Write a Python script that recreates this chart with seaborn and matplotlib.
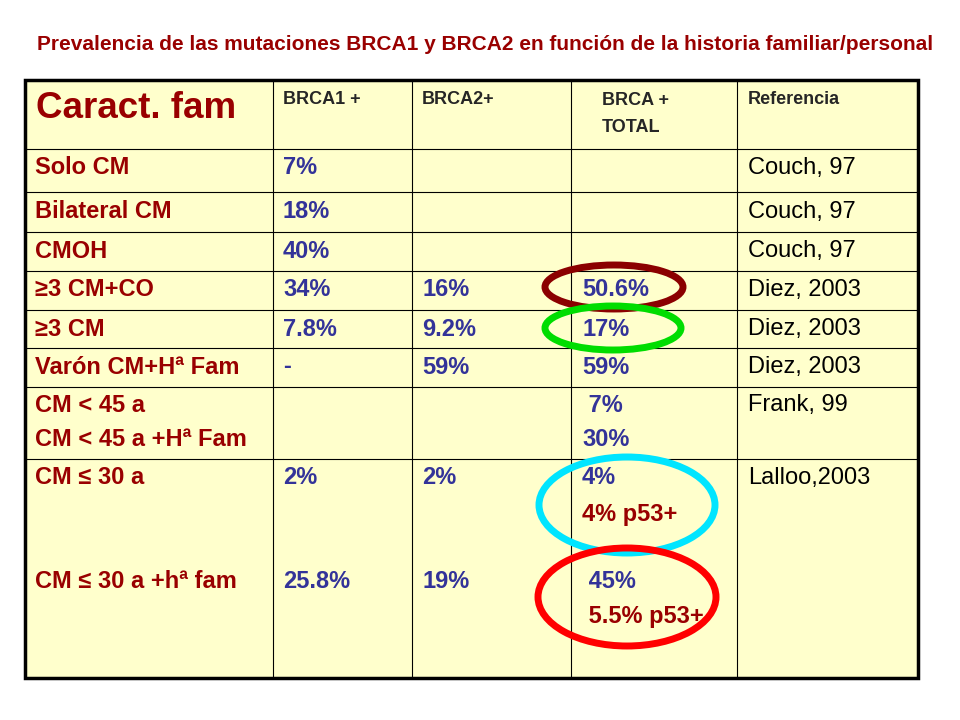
import matplotlib.pyplot as plt
import seaborn as sns
from matplotlib.patches import Ellipse, Rectangle

sns.set_theme(style="white", font="Liberation Sans")

TITLE = "Prevalencia de las mutaciones BRCA1 y BRCA2 en función de la historia familiar/personal"
HEADERS = ["BRCA1 +", "BRCA2+", "BRCA +\nTOTAL", "Referencia"]

# (text, y) per column
CARACT = [("Solo CM", 168), ("Bilateral CM", 212), ("CMOH", 251), ("≥3 CM+CO", 290),
          ("≥3 CM", 329), ("Varón CM+Hª Fam", 367), ("CM < 45 a", 405),
          ("CM < 45 a +Hª Fam", 439), ("CM ≤ 30 a", 478), ("CM ≤ 30 a +hª fam", 582)]
BRCA1 = [("7%", 168), ("18%", 212), ("40%", 251), ("34%", 290), ("7.8%", 329),
         ("-", 367), ("2%", 478), ("25.8%", 582)]
BRCA2 = [("16%", 290), ("9.2%", 329), ("59%", 367), ("2%", 478), ("19%", 582)]
TOTAL = [("50.6%", 290), ("17%", 329), ("59%", 367), (" 7%", 405), ("30%", 439),
         ("4%", 478), (" 45%", 582)]
TOTAL_P53 = [("4% p53+", 514), (" 5.5% p53+", 617)]
REFS = [("Couch, 97", 168), ("Couch, 97", 212), ("Couch, 97", 251), ("Diez, 2003", 290),
        ("Diez, 2003", 329), ("Diez, 2003", 367), ("Frank, 99", 405), ("Lalloo,2003", 478)]

COL_X = [25, 273, 412, 571, 737, 918]
ROW_Y = [80, 149, 192, 232, 271, 310, 348, 387, 459, 678]

RED = "#990000"
BLUE = "#333399"
FS = 17

fig = plt.figure(figsize=(9.6, 7.2), dpi=100)
ax = fig.add_axes([0, 0, 1, 1])
ax.set_xlim(0, 960)
ax.set_ylim(720, 0)
ax.axis("off")

ax.text(485, 45, TITLE, color=RED, fontsize=15, fontweight="bold", ha="center", va="center")

ax.add_patch(Rectangle((COL_X[0], ROW_Y[0]), COL_X[-1] - COL_X[0], ROW_Y[-1] - ROW_Y[0],
                       facecolor="#FFFFCC", edgecolor="black", lw=2.5, zorder=1))
for y in ROW_Y[1:-1]:
    ax.plot([COL_X[0], COL_X[-1]], [y, y], color="black", lw=0.8, zorder=2)
for x in COL_X[1:-1]:
    ax.plot([x, x], [ROW_Y[0], ROW_Y[-1]], color="black", lw=0.8, zorder=2)

ax.text(36, 109, "Caract. fam", color=RED, fontsize=26.5, fontweight="bold", va="center")
ax.text(283, 99, HEADERS[0], fontsize=13, fontweight="bold", va="center")
ax.text(422, 99, HEADERS[1], fontsize=13, fontweight="bold", va="center")
ax.text(602, 114, HEADERS[2], fontsize=13, fontweight="bold", va="center", linespacing=1.7)
ax.text(748, 99, HEADERS[3], fontsize=13, fontweight="bold", va="center")

for t, y in CARACT:
    ax.text(35, y, t, color=RED, fontsize=FS, fontweight="bold", va="center")
for t, y in BRCA1:
    ax.text(283, y, t, color=BLUE, fontsize=FS, fontweight="bold", va="center")
for t, y in BRCA2:
    ax.text(422, y, t, color=BLUE, fontsize=FS, fontweight="bold", va="center")
for t, y in TOTAL:
    ax.text(582, y, t, color=BLUE, fontsize=FS, fontweight="bold", va="center")
for t, y in TOTAL_P53:
    ax.text(582, y, t, color=RED, fontsize=FS, fontweight="bold", va="center")
for t, y in REFS:
    ax.text(748, y, t, color="black", fontsize=FS, va="center")

for (cx, cy, w, h, c) in [(614, 287, 138, 44, "#8B0000"), (613, 328, 136, 44, "#00DD00"),
                          (627, 505, 176, 96, "#00E5FF"), (627, 597, 178, 98, "#FF0000")]:
    ax.add_patch(Ellipse((cx, cy), w, h, fill=False, edgecolor=c, lw=5, zorder=3))

fig.savefig("out.png", dpi=100)
